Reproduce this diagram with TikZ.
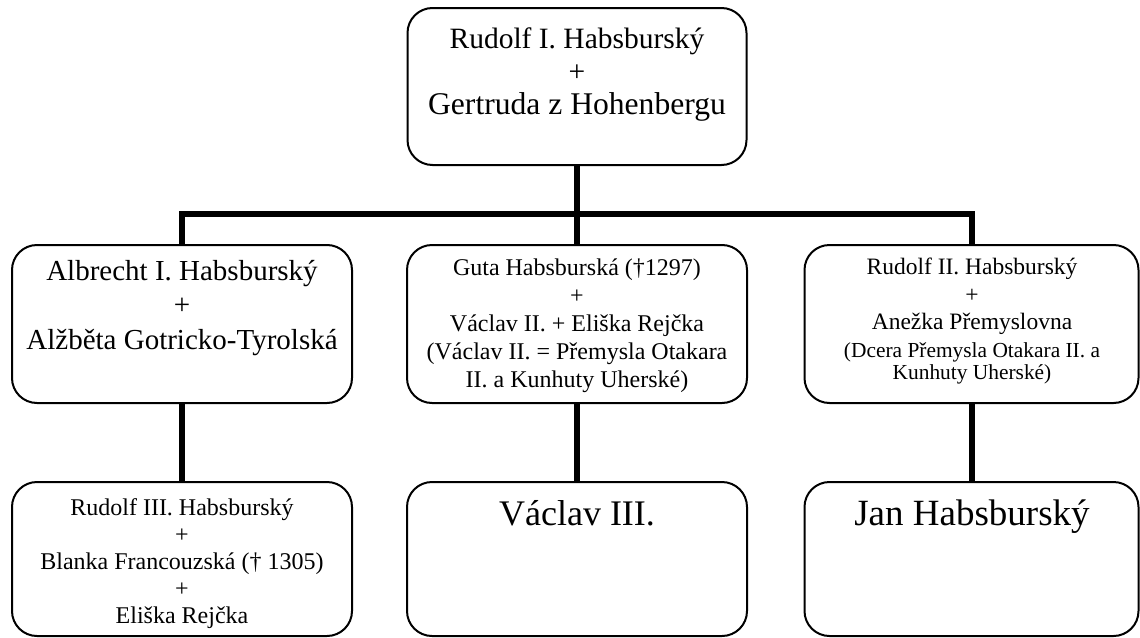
\documentclass[tikz,border=0pt]{standalone}
\usepackage{fontspec}
\setmainfont{Liberation Serif}
\usepackage{tikz}

\tikzset{
  famnode/.style={draw, line width=1pt, rounded corners=12.5pt, inner sep=0pt,
    minimum width=170pt, minimum height=79pt},
  famtext/.style={anchor=base, align=center, inner sep=0pt},
  famline/.style={line width=3pt, line join=miter},
}

\begin{document}
\begin{tikzpicture}[x=0.5pt, y=-0.5pt]
    \useasboundingbox (0,0) rectangle (1140,637);

    % Boxes
    \node[famnode, minimum width=169.5pt, minimum height=78.5pt] (rudolf) at (577,86.5) {};
    \node[famnode] (albrecht) at (182,324) {};
    \node[famnode] (guta) at (577,324) {};
    \node[famnode, minimum width=167pt] (rudolfB) at (971.5,324) {};
    \node[famnode, minimum height=77pt] (rudolfC) at (182,559) {};
    \node[famnode, minimum height=77pt] (vaclav) at (577,559) {};
    \node[famnode, minimum width=167pt, minimum height=77pt] (jan) at (971.5,559) {};

    % Texts (placed at the baseline of the last line)
    \node[famtext, font=\fontsize{14.75}{16.5}\selectfont] (rudolfT) at (577,114)
        {Rudolf I. Habsburský\\+\\{\fontsize{15.8}{16.5}\selectfont Gertruda z Hohenbergu}};
    \node[famtext, font=\fontsize{14.5}{17.25}\selectfont] (albrechtT) at (182,349)
        {Albrecht I. Habsburský\\+\\Alžběta Gotricko-Tyrolská};
    \node[famtext, font=\fontsize{12}{14}\selectfont] (gutaT) at (577,387)
        {Guta Habsburská (†1297)\\+\\Václav II. + Eliška Rejčka\\(Václav II. = Přemysla Otakara\\II. a Kunhuty Uherské)};
    \node[famtext, font=\fontsize{11.75}{13.75}\selectfont] (rudolfBT) at (972,379)
        {Rudolf II. Habsburský\\+\\Anežka Přemyslovna\\{\fontsize{10.7}{11}\selectfont (Dcera Přemysla Otakara II. a}\\[-2.75pt]{\fontsize{10.7}{11}\selectfont Kunhuty Uherské)}};
    \node[famtext, font=\fontsize{12}{13.5}\selectfont] (rudolfCT) at (182,623)
        {Rudolf III. Habsburský\\+\\Blanka Francouzská († 1305)\\+\\Eliška Rejčka};
    \node[famtext, font=\fontsize{18}{20}\selectfont] (vaclavT) at (577,525) {Václav III.};
    \node[famtext, font=\fontsize{18.5}{20}\selectfont] (janT) at (972,525) {Jan Habsburský};

    % Connectors
    \coordinate (fork) at (577,214);
    \draw[famline] (rudolf.south) -- (fork);
    \draw[famline] (albrecht.north) |- (fork) -| (rudolfB.north);
    \draw[famline] (fork) -- (guta.north);
    \draw[famline] (albrecht.south) -- (rudolfC.north);
    \draw[famline] (guta.south) -- (vaclav.north);
    \draw[famline] (rudolfB.south) -- (jan.north);
\end{tikzpicture}
\end{document}
